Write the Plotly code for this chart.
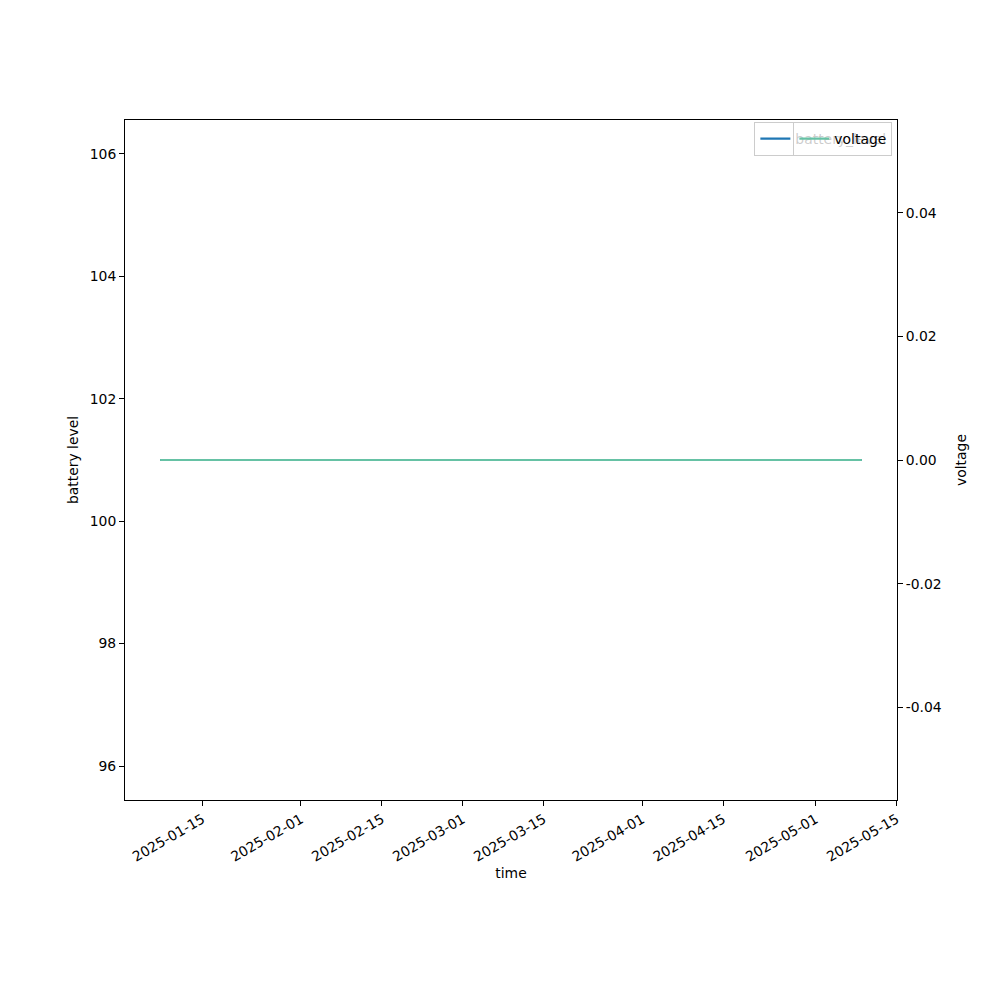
import pandas as pd
import plotly.graph_objects as go

# ---- data ----
times = ["2025-01-07 16:00", "2025-02-15 00:00", "2025-03-20 00:00", "2025-05-09 00:00"]
battery_level = [101, 101, 101, 101]
voltage = [0, 0, 0, 0]
x_tick_dates = ["2025-01-15", "2025-02-01", "2025-02-15", "2025-03-01", "2025-03-15",
                "2025-04-01", "2025-04-15", "2025-05-01", "2025-05-15"]
left_ticks = [96, 98, 100, 102, 104, 106]
right_ticks = [-0.04, -0.02, 0.0, 0.02, 0.04]

BLUE = "#1f77b4"
GREEN = "#66c2a5"
FONT = "DejaVu Sans"
FS = 13.9


def mpl_range(vals, margin=0.05):
    lo, hi = min(vals), max(vals)
    if hi - lo < 1e-12:
        exp = 0.05 * abs(lo) if lo != 0 else 0.05
        lo, hi = lo - exp, hi + exp
    span = hi - lo
    return [lo - margin * span, hi + margin * span]


t = pd.to_datetime(times)
span = t.max() - t.min()
x_range = [t.min() - 0.05 * span, t.max() + 0.05 * span]

fig = go.Figure()
fig.add_trace(go.Scatter(x=t, y=battery_level, mode="lines", name="battery_level",
                         line=dict(color=BLUE, width=2.1), legend="legend", yaxis="y",
                         showlegend=True))
fig.add_trace(go.Scatter(x=t, y=voltage, mode="lines", name="voltage",
                         line=dict(color=GREEN, width=2.1), legend="legend2", yaxis="y2",
                         showlegend=True))

axis_common = dict(showgrid=False, zeroline=False, showline=True, linecolor="black",
                   linewidth=1, ticks="outside", ticklen=5, tickwidth=1, tickcolor="black",
                   automargin=False,
                   tickfont=dict(family=FONT, size=FS, color="black"))

fig.update_layout(
    width=992, height=992,
    margin=dict(l=117, r=103, t=112, b=200, pad=0),
    showlegend=True,
    paper_bgcolor="white", plot_bgcolor="white",
    font=dict(family=FONT, size=FS, color="black"),
    xaxis=dict(type="date", range=[x.strftime("%Y-%m-%d %H:%M:%S") for x in x_range],
               tickvals=x_tick_dates, ticktext=x_tick_dates, tickangle=-30,
               mirror=True,
               title=dict(text="time", font=dict(family=FONT, size=FS), standoff=4),
               **axis_common),
    yaxis=dict(range=mpl_range(battery_level), tickvals=left_ticks,
               ticktext=[str(v) for v in left_ticks],
               title=dict(text="battery level", font=dict(family=FONT, size=FS), standoff=7),
               **axis_common),
    yaxis2=dict(range=mpl_range(voltage), overlaying="y", side="right",
                tickvals=right_ticks, ticktext=[f"{v:.2f}" for v in right_ticks],
                title=dict(text="voltage", font=dict(family=FONT, size=FS), standoff=15),
                **axis_common),
    legend=dict(x=0.994, y=0.997, xanchor="right", yanchor="top",
                bgcolor="rgba(255,255,255,0.8)", bordercolor="#cccccc", borderwidth=1,
                font=dict(family=FONT, size=FS, color="black")),
    legend2=dict(x=0.994, y=0.997, xanchor="right", yanchor="top",
                 bgcolor="rgba(255,255,255,0.8)", bordercolor="#cccccc", borderwidth=1,
                 font=dict(family=FONT, size=FS, color="black")),
)

fig.write_html("out.html")
